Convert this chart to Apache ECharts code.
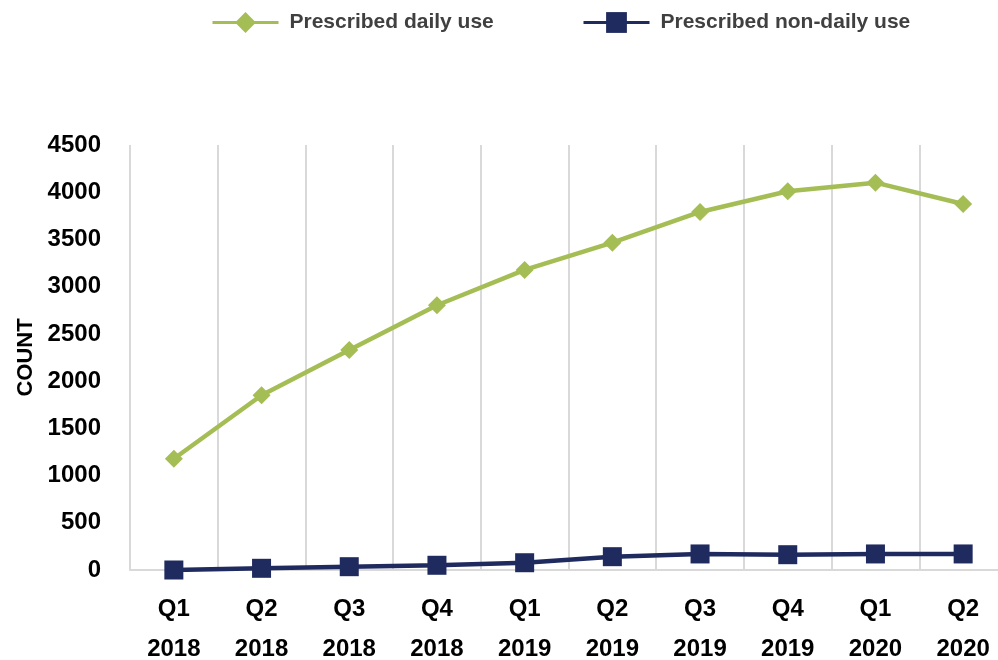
<!DOCTYPE html>
<html>
<head>
<meta charset="utf-8">
<script src="https://cdn.jsdelivr.net/npm/echarts@6/dist/echarts.min.js"></script>
<style>
  html, body { margin: 0; padding: 0; background: #fff; }
  #chart { width: 998px; height: 660px; }
</style>
</head>
<body>
<div id="chart"></div>
<script>
// data
var quarters = ['Q1\n2018', 'Q2\n2018', 'Q3\n2018', 'Q4\n2018', 'Q1\n2019',
                'Q2\n2019', 'Q3\n2019', 'Q4\n2019', 'Q1\n2020', 'Q2\n2020'];
var dailyUse = [1178, 1850, 2330, 2803, 3177, 3466, 3791, 4010, 4101, 3875];
var nonDailyUse = [0, 18, 35, 50, 77, 141, 170, 162, 170, 170];
var yTicks = { min: 0, max: 4500, interval: 500 };

var font = '"Liberation Sans", Arial, sans-serif';
var green = '#A5BD55';
var navy = '#1F2A5E';

var chart = echarts.init(document.getElementById('chart'));

// one legend per series so each can sit where the original has it
function legendAt(left, name) {
    return {
        top: 7,
        left: left,
        itemWidth: 66,
        itemHeight: 26,
        lineStyle: { width: 3 },
        textStyle: {
            fontFamily: font,
            fontWeight: 'bold',
            fontSize: 21,
            color: '#404040',
            padding: [0, 0, 0, 6]
        },
        data: [name]
    };
}

var option = {
    animation: false,
    legend: [
        legendAt(206, 'Prescribed daily use'),
        legendAt(577, 'Prescribed non-daily use')
    ],
    grid: {
        left: 130,
        right: -9,
        top: 145,
        bottom: 90,
        outerBoundsMode: 'none'
    },
    xAxis: {
        type: 'category',
        data: quarters,
        boundaryGap: true,
        axisLine: { lineStyle: { color: '#D9D9D9', width: 2 } },
        axisTick: { show: false },
        splitLine: { show: true, lineStyle: { color: '#D9D9D9', width: 2 } },
        axisLabel: {
            interval: 0,
            margin: 19,
            fontFamily: font,
            fontWeight: 'bold',
            fontSize: 24,
            lineHeight: 40,
            color: '#000'
        }
    },
    yAxis: {
        type: 'value',
        min: yTicks.min,
        max: yTicks.max,
        interval: yTicks.interval,
        name: 'COUNT',
        nameLocation: 'middle',
        nameGap: 93,
        nameRotate: 90,
        nameMoveOverlap: false,
        nameTextStyle: {
            fontFamily: font,
            fontWeight: 'bold',
            fontSize: 22,
            color: '#000'
        },
        axisLine: { show: false },
        axisTick: { show: false },
        splitLine: { show: false },
        axisLabel: {
            margin: 29,
            fontFamily: font,
            fontWeight: 'bold',
            fontSize: 24,
            color: '#000',
            formatter: function (v) { return String(v); }
        }
    },
    series: [
        {
            name: 'Prescribed daily use',
            type: 'line',
            data: dailyUse,
            symbol: 'diamond',
            symbolSize: 18,
            lineStyle: { color: green, width: 4.5 },
            itemStyle: { color: green }
        },
        {
            name: 'Prescribed non-daily use',
            type: 'line',
            data: nonDailyUse,
            symbol: 'rect',
            symbolSize: 19,
            lineStyle: { color: navy, width: 4.5 },
            itemStyle: { color: navy }
        }
    ]
};

chart.setOption(option);
</script>
</body>
</html>
